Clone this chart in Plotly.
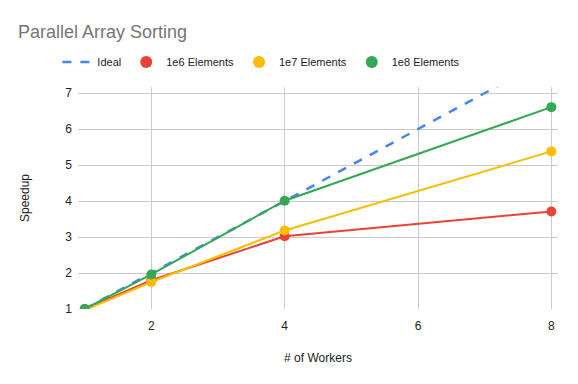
import plotly.graph_objects as go

workers = [1, 2, 4, 8]
ideal = [1, 2, 4, 8]
e6 = [1.0, 1.8, 3.02, 3.71]
e7 = [0.97, 1.75, 3.18, 5.38]
e8 = [1.0, 1.96, 4.01, 6.61]

series = [
    ("Ideal", ideal, "#4285F4", True),
    ("1e6 Elements", e6, "#EA4335", False),
    ("1e7 Elements", e7, "#FBBC04", False),
    ("1e8 Elements", e8, "#34A853", False),
]

fig = go.Figure()
for name, ys, color, dashed in series:
    if dashed:
        fig.add_trace(go.Scatter(x=workers, y=ys, name=name, mode="lines",
                                 line=dict(color=color, width=2.5, dash="dash")))
    else:
        fig.add_trace(go.Scatter(x=workers, y=ys, name=name, mode="lines+markers",
                                 line=dict(color=color, width=2),
                                 marker=dict(color=color, size=10),
                                 showlegend=False))
        # legend entry: dot only
        fig.add_trace(go.Scatter(x=[None], y=[None], name=name, mode="markers",
                                 marker=dict(color=color, size=12)))

font = "Arial, Liberation Sans, sans-serif"
W, H = 570, 376  # page body adds an 8px margin
fig.update_layout(
    width=W, height=H,
    margin=dict(l=70, r=20, t=79, b=75),
    paper_bgcolor="white", plot_bgcolor="white",
    font=dict(family=font, size=12, color="#222222"),
    title=dict(text="Parallel Array Sorting", x=10/W, xanchor="left",
               yref="container", y=1 - 24/H, yanchor="middle",
               font=dict(size=18, color="#757575", family=font)),
    legend=dict(orientation="h", x=0.382, xanchor="center", y=1.113, yanchor="middle",
                font=dict(size=11, color="#222222"), itemwidth=30,
                traceorder="normal"),
    xaxis=dict(range=[0.9, 8.1], tickvals=[2, 4, 6, 8], showgrid=True,
               gridcolor="#cccccc", zeroline=False, showline=False, automargin=False,
               title=dict(text="# of Workers", font=dict(size=12), standoff=21),
               ticklen=0, ticklabelstandoff=8),
    yaxis=dict(range=[1, 7.17], tickvals=[1, 2, 3, 4, 5, 6, 7], showgrid=True,
               gridcolor="#cccccc", zeroline=False, showline=False, automargin=False,
               title=dict(text="Speedup", font=dict(size=12), standoff=33),
               ticklen=0, ticklabelstandoff=5),
)
fig.write_html("out.html")
